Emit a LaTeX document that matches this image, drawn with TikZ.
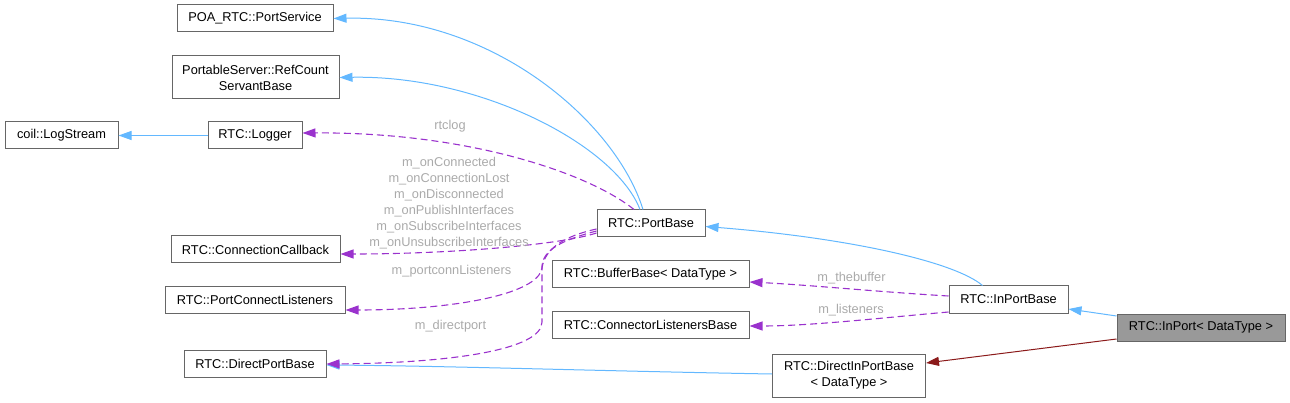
\documentclass[tikz,border=0pt]{standalone}
\usepackage{fontspec}
\setmainfont{Liberation Sans}
\usetikzlibrary{arrows.meta}
\definecolor{boxborder}{HTML}{666666}
\definecolor{inportfill}{HTML}{999999}
\definecolor{inhblue}{HTML}{63B8FF}
\definecolor{usepurple}{HTML}{9A32CD}
\definecolor{tmplred}{HTML}{8B1A1A}
\definecolor{lblgray}{HTML}{AAAAAA}
\tikzset{
  cls/.style={draw=boxborder, line width=1pt, fill=white, inner sep=0pt, align=center,
    font=\fontsize{12.8}{16}\selectfont, text=black},
  inh/.style={draw=inhblue, line width=1pt, -{Triangle[length=13pt,width=9pt]}},
  use/.style={draw=usepurple, line width=1.1pt, dash pattern=on 7pt off 4pt,
    -{Triangle[length=13pt,width=9pt]}},
  tmpl/.style={draw=tmplred, line width=1pt, -{Triangle[length=13pt,width=9pt]}},
  lbl/.style={text=lblgray, font=\fontsize{12.8}{16}\selectfont, align=center, inner sep=0pt}
}
\begin{document}
\begin{tikzpicture}[x=1pt,y=-1pt]
\useasboundingbox (0,0) rectangle (1290,403);
% nodes
\node[cls, minimum width=156pt, minimum height=27pt] (ps) at (255,18.5) {POA\_RTC::PortService};
\node[cls, minimum width=167pt, minimum height=43pt] (rc) at (255.5,77.5) {PortableServer::RefCount\\ServantBase};
\node[cls, minimum width=113pt, minimum height=27pt] (ls) at (61.5,135.5) {coil::LogStream};
\node[cls, minimum width=94pt, minimum height=27pt] (lg) at (255,135.5) {RTC::Logger};
\node[cls, minimum width=169pt, minimum height=27pt] (cc) at (255.5,249.5) {RTC::ConnectionCallback};
\node[cls, minimum width=180pt, minimum height=27pt] (pcl) at (255,300) {RTC::PortConnectListeners};
\node[cls, minimum width=142pt, minimum height=27pt] (dpb) at (255,364) {RTC::DirectPortBase};
\node[cls, minimum width=108pt, minimum height=27pt] (pb) at (651,223.5) {RTC::PortBase};
\node[cls, minimum width=197pt, minimum height=27pt] (bb) at (650.5,274.5) {RTC::BufferBase< DataType >};
\node[cls, minimum width=197pt, minimum height=27pt] (clb) at (650.5,325) {RTC::ConnectorListenersBase};
\node[cls, minimum width=153pt, minimum height=43pt] (dipb) at (849,375.5) {RTC::DirectInPortBase\\< DataType >};
\node[cls, minimum width=119pt, minimum height=27pt] (ipb) at (1008.5,299.5) {RTC::InPortBase};
\node[cls, fill=inportfill, minimum width=168pt, minimum height=27pt] (ip) at (1201,327.5) {RTC::InPort< DataType >};

% inheritance edges
\draw[inh] (lg.west) -- (ls.east);
\draw[inh] ([xshift=-8pt]pb.north) .. controls (615,120) and (490,15) .. (ps.east);
\draw[inh] ([xshift=-11pt]pb.north) .. controls (615,145) and (480,75) .. (rc.east);
\draw[inh] ([xshift=-26pt]ipb.north) .. controls (955,262) and (850,238) .. ([yshift=-3pt]pb.east);
\draw[inh] ([yshift=11.5pt]ip.west) -- ([yshift=-9.5pt]ipb.east);
\draw[inh] ([yshift=1.5pt]dipb.west) .. controls (600,371) and (450,366) .. ([yshift=-1pt]dpb.east);
\draw[tmpl] ([yshift=-11.5pt]ip.west) -- ([yshift=12.5pt]dipb.east);

% usage edges
\draw[use] ([xshift=-17pt]pb.north) .. controls (590,174) and (470,132) .. ([yshift=2.5pt]lg.east);
\draw[use] ([yshift=-9.5pt]pb.west) .. controls (560,245) and (450,254) .. ([yshift=-4.5pt]cc.east);
\draw[use] ([yshift=-5.5pt]pb.west) .. controls (565,236) and (545,248) .. (542,268)
   .. controls (538,295) and (450,310) .. ([yshift=-10pt]pcl.east);
\draw[use] ([yshift=-7.5pt]pb.west) .. controls (562,240) and (543,250) .. (542,266)
   -- (542,322) .. controls (542,350) and (450,363) .. (dpb.east);
\draw[use] ([yshift=3.5pt]ipb.west) .. controls (880,292) and (810,285) .. ([yshift=-7.5pt]bb.east);
\draw[use] ([yshift=-12.5pt]ipb.west) .. controls (880,318) and (810,326) .. ([yshift=-1pt]clb.east);

% labels
\node[lbl] (l1) at (450,126.5) {rtclog};
\node[lbl] (l2) at (449,203) {m\_onConnected\\m\_onConnectionLost\\m\_onDisconnected\\m\_onPublishInterfaces\\m\_onSubscribeInterfaces\\m\_onUnsubscribeInterfaces};
\node[lbl] (l3) at (451.5,271) {m\_portconnListeners};
\node[lbl] (l4) at (450.5,326.5) {m\_directport};
\node[lbl] (l5) at (851.5,278.5) {m\_thebuffer};
\node[lbl] (l6) at (851,310.5) {m\_listeners};
\end{tikzpicture}
\end{document}
